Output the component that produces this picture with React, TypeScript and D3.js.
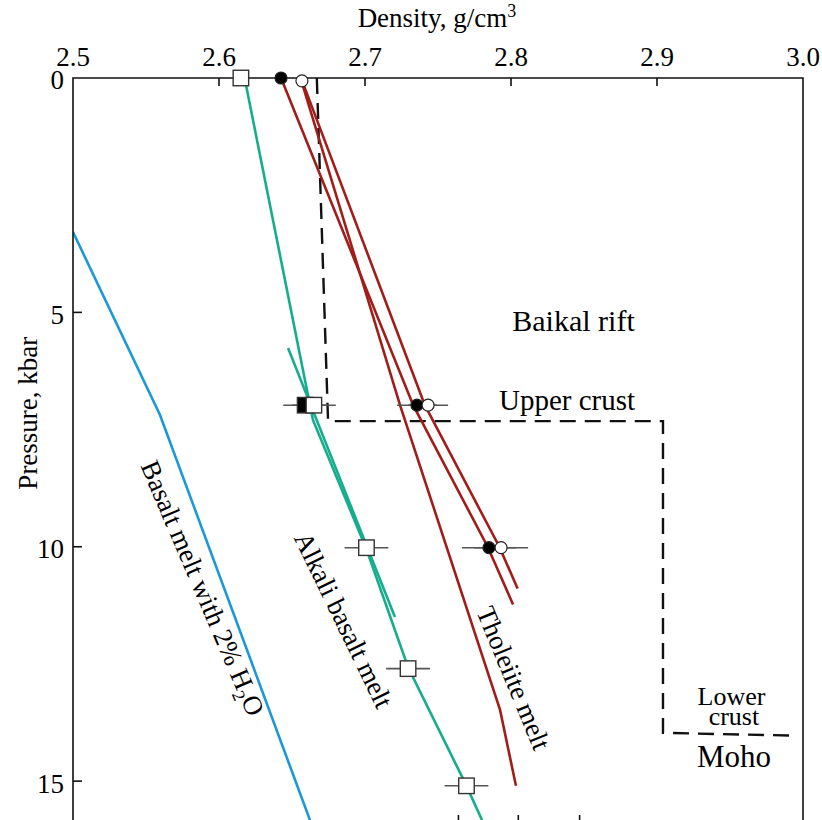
import React, { useEffect, useRef } from "react";
import * as d3 from "d3";

type Pt = [number, number]; // [density g/cm3, pressure kbar]

// axes
const densityTicks = [2.5, 2.6, 2.7, 2.8, 2.9, 3.0];
const densityTickLabels = ["2.5", "2.6", "2.7", "2.8", "2.9", "3.0"];
const pressureTicks = [0, 5, 10, 15];
const bottomTicks = [2.764, 2.805, 2.847];

// tholeiite melt (red)
const tholeiiteA: Pt[] = [[2.6425, 0], [2.733, 6.98], [2.784, 10], [2.8014, 11.23]];
const tholeiiteB: Pt[] = [[2.6568, 0.05], [2.741, 6.98], [2.792, 10], [2.8045, 10.89]];
const tholeiiteC: Pt[] = [[2.6568, 0.1], [2.724, 6.98], [2.7925, 13.48], [2.8034, 15.1]];

// alkali basalt melt (green)
const alkaliMain: Pt[] = [
  [2.6185, 0.15], [2.6575, 6.23], [2.6644, 7.3], [2.7007, 10.03],
  [2.7295, 12.57], [2.7692, 15.08], [2.7826, 16],
];
const alkaliShort: Pt[] = [[2.6473, 5.76], [2.7205, 11.5]];

// basalt melt with 2% H2O (blue)
const basaltWet: Pt[] = [[2.5, 3.285], [2.5596, 7.19], [2.6643, 16]];

// crust model (dashed)
const crustModel: Pt[] = [[2.667, 0], [2.6747, 7.32], [2.9041, 7.32], [2.9041, 13.97], [2.995, 14.03]];

// measured points: density, pressure, error
const squaresFilled = [{ d: 2.659, p: 6.98, e: 0.015 }];
const squaresOpen = [
  { d: 2.615, p: 0, e: 0 },
  { d: 2.665, p: 6.98, e: 0.015 },
  { d: 2.701, p: 10.02, e: 0.015 },
  { d: 2.7295, p: 12.6, e: 0.015 },
  { d: 2.7695, p: 15.1, e: 0.015 },
];
const circlesFilled = [
  { d: 2.6425, p: 0, e: 0 },
  { d: 2.7356, p: 6.98, e: 0.0137 },
  { d: 2.7849, p: 10.02, e: 0.0185 },
];
const circlesOpen = [
  { d: 2.6568, p: 0.06, e: 0 },
  { d: 2.7432, p: 6.98, e: 0.0137 },
  { d: 2.7932, p: 10.02, e: 0.0185 },
];

// annotations anchored in data units
const notes = [
  { text: "Baikal rift", d: 2.8428, p: 5.397 },
  { text: "Upper crust", d: 2.8384, p: 7.08 },
  { text: "Lower", d: 2.951, p: 13.376 },
  { text: "crust", d: 2.9527, p: 13.8 },
  { text: "Moho", d: 2.9527, p: 14.7 },
];
const curveLabels = [
  { key: "wet", d: 2.589, p: 10.88, angle: 66.8 },
  { key: "alkali", d: 2.6856, p: 11.56, angle: 64.1 },
  { key: "thol", d: 2.802, p: 12.8, angle: 67.5 },
];

const FONT = "'Liberation Serif', 'Times New Roman', serif";

const App = () => {
  const svgRef = useRef<SVGSVGElement>(null);

  useEffect(() => {
    const svg = d3.select(svgRef.current);
    svg.selectAll("*").remove();

    const x = d3.scaleLinear().domain([2.5, 3.0]).range([73, 803]);
    const y = d3.scaleLinear().domain([0, 16]).range([78, 828]);

    // clip to plot frame
    svg
      .append("defs")
      .append("clipPath")
      .attr("id", "frame")
      .append("rect")
      .attr("x", 73)
      .attr("y", 78)
      .attr("width", 730)
      .attr("height", 750);

    const line = d3
      .line<Pt>()
      .x((d) => x(d[0]))
      .y((d) => y(d[1]));

    const plot = svg.append("g").attr("clip-path", "url(#frame)");

    // dashed crust model
    plot
      .append("path")
      .attr("d", line(crustModel))
      .attr("fill", "none")
      .attr("stroke", "#111")
      .attr("stroke-width", 2.4)
      .attr("stroke-dasharray", "16,9");

    const curves: [Pt[], string][] = [
      [basaltWet, "#1b98d5"],
      [alkaliMain, "#15ad8b"],
      [alkaliShort, "#15ad8b"],
      [tholeiiteA, "#a01d1a"],
      [tholeiiteB, "#a01d1a"],
      [tholeiiteC, "#a01d1a"],
    ];
    curves.forEach(([pts, color]) => {
      plot
        .append("path")
        .attr("d", line(pts))
        .attr("fill", "none")
        .attr("stroke", color)
        .attr("stroke-width", 2.6);
    });

    // frame
    const frame = svg.append("g").attr("stroke", "#111").attr("stroke-width", 1.6).attr("fill", "none");
    frame.append("path").attr("d", `M${x(2.5)},${y(16)}V${y(0)}H${x(3.0)}V${y(16)}`);

    // top axis ticks & labels
    const top = svg.append("g");
    top
      .selectAll("line")
      .data(densityTicks.slice(1, -1))
      .enter()
      .append("line")
      .attr("x1", (d) => x(d))
      .attr("x2", (d) => x(d))
      .attr("y1", y(0))
      .attr("y2", y(0) + 8)
      .attr("stroke", "#111")
      .attr("stroke-width", 1.6);
    top
      .selectAll("text")
      .data(densityTicks)
      .enter()
      .append("text")
      .attr("x", (d) => x(d))
      .attr("y", 66)
      .attr("text-anchor", "middle")
      .attr("font-family", FONT)
      .attr("font-size", 27)
      .text((d, i) => densityTickLabels[i]);

    // bottom tick stubs
    svg
      .append("g")
      .selectAll("line")
      .data(bottomTicks)
      .enter()
      .append("line")
      .attr("x1", (d) => x(d))
      .attr("x2", (d) => x(d))
      .attr("y1", y(16))
      .attr("y2", y(16) - 13)
      .attr("stroke", "#111")
      .attr("stroke-width", 1.6);

    // left axis
    const left = svg.append("g");
    left
      .selectAll("line")
      .data(pressureTicks.slice(1))
      .enter()
      .append("line")
      .attr("x1", x(2.5))
      .attr("x2", x(2.5) + 9)
      .attr("y1", (d) => y(d))
      .attr("y2", (d) => y(d))
      .attr("stroke", "#111")
      .attr("stroke-width", 1.6);
    left
      .selectAll("text")
      .data(pressureTicks)
      .enter()
      .append("text")
      .attr("x", 64)
      .attr("y", (d) => y(d) + 2)
      .attr("dy", "0.35em")
      .attr("text-anchor", "end")
      .attr("font-family", FONT)
      .attr("font-size", 27)
      .text((d) => d);

    // axis titles
    const xt = svg
      .append("text")
      .attr("x", 437)
      .attr("y", 27)
      .attr("text-anchor", "middle")
      .attr("font-family", FONT)
      .attr("font-size", 27);
    xt.append("tspan").text("Density, g/cm");
    xt.append("tspan").attr("dy", -10).attr("font-size", 18).text("3");

    svg
      .append("text")
      .attr("transform", `translate(28,${y(7.15)}) rotate(-90)`)
      .attr("text-anchor", "middle")
      .attr("dy", "0.35em")
      .attr("font-family", FONT)
      .attr("font-size", 27)
      .text("Pressure, kbar");

    // error bars
    const allPts = [...squaresFilled, ...squaresOpen, ...circlesFilled, ...circlesOpen].filter((d) => d.e > 0);
    svg
      .append("g")
      .selectAll("line")
      .data(allPts)
      .enter()
      .append("line")
      .attr("x1", (d) => x(d.d - d.e))
      .attr("x2", (d) => x(d.d + d.e))
      .attr("y1", (d) => y(d.p))
      .attr("y2", (d) => y(d.p))
      .attr("stroke", "#555")
      .attr("stroke-width", 1.6);

    const sq = 15.5;
    const addSquares = (data: typeof squaresOpen, fill: string) =>
      svg
        .append("g")
        .selectAll("rect")
        .data(data)
        .enter()
        .append("rect")
        .attr("x", (d) => x(d.d) - sq / 2)
        .attr("y", (d) => y(d.p) - sq / 2)
        .attr("width", sq)
        .attr("height", sq)
        .attr("fill", fill)
        .attr("stroke", "#333")
        .attr("stroke-width", 1.4);
    addSquares(squaresFilled, "#000");
    addSquares(squaresOpen, "#fff");

    const addCircles = (data: typeof circlesOpen, fill: string) =>
      svg
        .append("g")
        .selectAll("circle")
        .data(data)
        .enter()
        .append("circle")
        .attr("cx", (d) => x(d.d))
        .attr("cy", (d) => y(d.p))
        .attr("r", 6)
        .attr("fill", fill)
        .attr("stroke", "#222")
        .attr("stroke-width", 1.2);
    addCircles(circlesFilled, "#000");
    addCircles(circlesOpen, "#fff");

    // annotations
    const sizes: Record<string, number> = { "Baikal rift": 30, "Upper crust": 29, Lower: 26, crust: 26, Moho: 31 };
    svg
      .append("g")
      .selectAll("text")
      .data(notes)
      .enter()
      .append("text")
      .attr("x", (d) => x(d.d))
      .attr("y", (d) => y(d.p))
      .attr("text-anchor", "middle")
      .attr("font-family", FONT)
      .attr("font-size", (d) => sizes[d.text])
      .text((d) => d.text);

    // rotated curve labels
    curveLabels.forEach((c) => {
      const t = svg
        .append("text")
        .attr("transform", `translate(${x(c.d)},${y(c.p)}) rotate(${c.angle})`)
        .attr("text-anchor", "middle")
        .attr("dy", "0.35em")
        .attr("font-family", FONT)
        .attr("font-size", 27);
      if (c.key === "wet") {
        t.append("tspan").text("Basalt melt with 2% H");
        t.append("tspan").attr("dy", 6).attr("font-size", 18).text("2");
        t.append("tspan").attr("dy", -6).text("O");
      } else if (c.key === "alkali") {
        t.text("Alkali basalt melt");
      } else {
        t.text("Tholeiite melt");
      }
    });
  }, []);

  return (
    <svg
      ref={svgRef}
      width={822}
      height={820}
      style={{ position: "absolute", left: 0, top: 0, background: "#fff" }}
    ></svg>
  );
};

export default App;
